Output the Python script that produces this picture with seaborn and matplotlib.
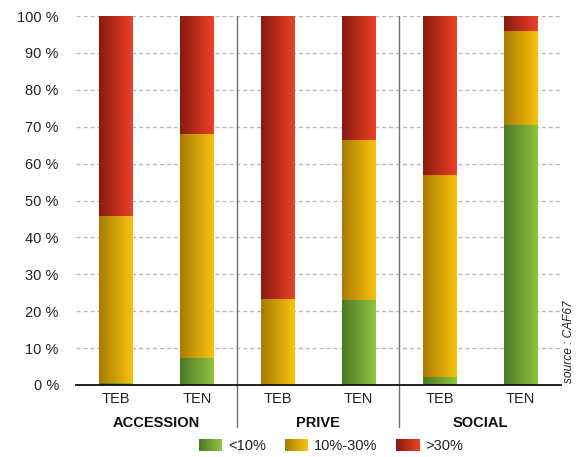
import numpy as np
import pandas as pd
import matplotlib
matplotlib.use('Agg')
import matplotlib.pyplot as plt
import seaborn as sns
from matplotlib.patches import Patch, Rectangle
from matplotlib.legend_handler import HandlerBase
from matplotlib.colors import LinearSegmentedColormap
from matplotlib.transforms import blended_transform_factory

# data (percent of each bar)
groups = ['ACCESSION', 'PRIVE', 'SOCIAL']
bar_types = ['TEB', 'TEN', 'TEB', 'TEN', 'TEB', 'TEN']
lt10 = [0.5, 7.4, 0.0, 22.9, 2.1, 70.4]
mid10_30 = [45.3, 60.6, 23.3, 43.6, 54.8, 25.5]
gt30 = [54.2, 32.0, 76.7, 33.5, 43.1, 4.1]
legend_labels = ['<10%', '10%-30%', '>30%']
source = 'source : CAF67'

# gradient colours (dark left edge -> light right edge)
c_green = ('#4b7925', '#8ec542')
c_yellow = ('#a87b00', '#fac30f')
c_red = ('#891a0e', '#ec4128')

sns.set_style('white')
plt.rcParams['font.family'] = ['Liberation Sans', 'DejaVu Sans']

df = pd.DataFrame({
    'bar': [f'{groups[i // 2]}-{t}' for i, t in enumerate(bar_types)],
    'lt10': lt10,
    'mid': mid10_30,
    'gt30': gt30,
})
df['top_green'] = df['lt10']
df['top_yellow'] = df['lt10'] + df['mid']
df['top_red'] = df['top_yellow'] + df['gt30']

fig = plt.figure(figsize=(5.86, 4.57), dpi=100)
ax = fig.add_axes([75.5 / 586, 1 - 385 / 457, (561 - 75.5) / 586, (385 - 16) / 457])

W = 0.42
layers = []
for col, cols in [('top_red', c_red), ('top_yellow', c_yellow), ('top_green', c_green)]:
    n0 = len(ax.patches)
    sns.barplot(data=df, x='bar', y=col, color=cols[1], width=W, ax=ax, zorder=2)
    layers.append((ax.patches[n0:], cols))

grad = np.linspace(0, 1, 256).reshape(1, -1)
z = 2.0
for patches, cols in layers:
    cmap = LinearSegmentedColormap.from_list('g', list(cols))
    z += 0.1
    for p in patches:
        x0, y0 = p.get_x(), p.get_y()
        w, h = p.get_width(), p.get_height()
        p.set_facecolor('none')
        p.set_edgecolor('none')
        if h <= 0:
            continue
        im = ax.imshow(grad, cmap=cmap, aspect='auto', extent=(x0, x0 + w, y0, y0 + h),
                       zorder=z, interpolation='bilinear')
        im.set_clip_path(p)

ax.set_xlim(-0.5, 5.5)
ax.set_ylim(0, 100)
ax.set_yticks(range(0, 101, 10))
ax.set_yticklabels([f'{v} %' for v in range(0, 101, 10)], fontsize=10.5, color='#222222')
ax.set_xticks(range(6))
ax.set_xticklabels(bar_types, fontsize=10.5, color='#222222')
ax.tick_params(axis='y', length=0, pad=12)
ax.tick_params(axis='x', length=0, pad=5)
ax.set_xlabel('')
ax.set_ylabel('')

ax.yaxis.grid(True, color='#bcbcbc', linestyle=(0, (3, 2)), linewidth=1)
ax.set_axisbelow(True)
for s in ['left', 'top', 'right']:
    ax.spines[s].set_visible(False)
ax.spines['bottom'].set_color('#111111')
ax.spines['bottom'].set_linewidth(1.3)
ax.spines['bottom'].set_zorder(5)

trans = blended_transform_factory(ax.transData, ax.transAxes)
for xs in [1.5, 3.5]:
    ax.plot([xs, xs], [1, -0.115], transform=trans, color='#707070', lw=1, clip_on=False, zorder=4)
for i, g in enumerate(groups):
    ax.text(2 * i + 0.5, -0.102, g, transform=trans, ha='center', va='center',
            fontsize=10.5, fontweight='bold', color='#111111')

fig.text(569 / 586, 1 - 383 / 457, source, rotation=90, ha='center', va='bottom',
         fontsize=8.6, style='italic', color='#222222')


class GradPatch(Patch):
    def __init__(self, cols, **kw):
        super().__init__(**kw)
        self.cols = cols


class HandlerGrad(HandlerBase):
    def create_artists(self, legend, orig_handle, xdescent, ydescent, width, height, fontsize, trans):
        cmap = LinearSegmentedColormap.from_list('g', list(orig_handle.cols))
        n = 24
        arts = []
        for k in range(n):
            r = Rectangle((-xdescent + width * k / n, -ydescent), width / n + 0.3, height,
                          facecolor=cmap(k / (n - 1)), edgecolor='none', transform=trans)
            arts.append(r)
        return arts


handles = [GradPatch(c, label=l) for c, l in zip([c_green, c_yellow, c_red], legend_labels)]
fig.legend(handles=handles, loc='center', bbox_to_anchor=(331 / 586, 1 - 446 / 457), ncol=3,
           frameon=False, fontsize=10.5, handlelength=1.6, handleheight=0.95,
           handletextpad=0.4, columnspacing=1.3, handler_map={GradPatch: HandlerGrad()},
           labelcolor='#222222')

fig.savefig('out.png', dpi=100)
